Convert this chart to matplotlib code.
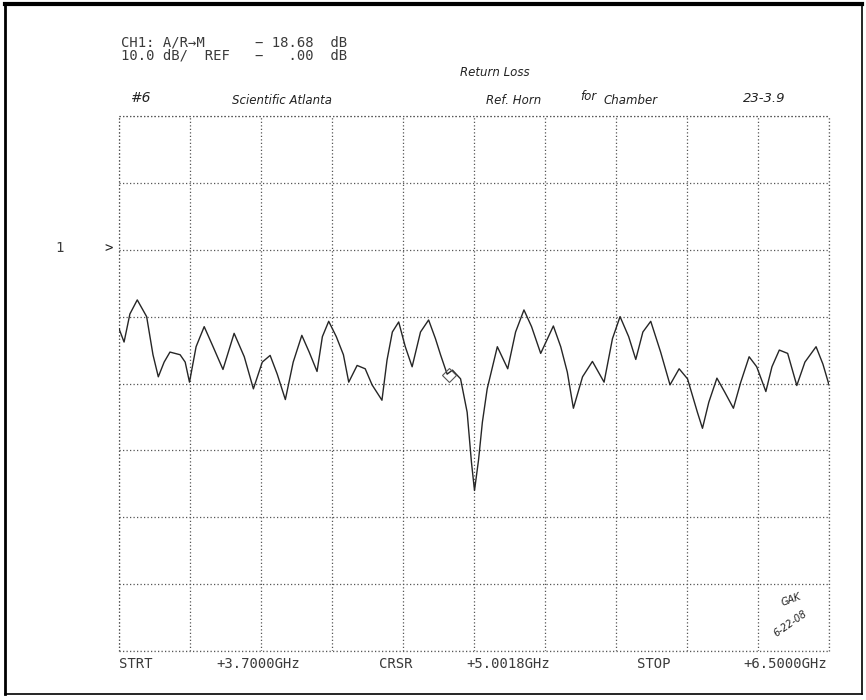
import numpy as np
import matplotlib
matplotlib.use("Agg")
import matplotlib.pyplot as plt
from matplotlib.lines import Line2D

# ---- data ----
freq_ghz = [3.700, 3.720, 3.743, 3.772, 3.809, 3.834, 3.855, 3.878, 3.901, 3.941,
            3.961, 3.978, 4.004, 4.036, 4.071, 4.110, 4.154, 4.194, 4.230, 4.265,
            4.296, 4.324, 4.356, 4.387, 4.421, 4.450, 4.481, 4.502, 4.527, 4.557,
            4.585, 4.606, 4.639, 4.671, 4.698, 4.737, 4.757, 4.778, 4.803, 4.829,
            4.856, 4.889, 4.921, 4.948, 4.968, 4.994, 5.015, 5.047, 5.073, 5.090,
            5.102, 5.118, 5.133, 5.152, 5.192, 5.233, 5.264, 5.297, 5.327, 5.363,
            5.413, 5.442, 5.468, 5.492, 5.528, 5.567, 5.613, 5.646, 5.676, 5.710,
            5.738, 5.766, 5.797, 5.836, 5.873, 5.909, 5.942, 5.981, 6.001, 6.026,
            6.058, 6.089, 6.123, 6.152, 6.185, 6.215, 6.251, 6.275, 6.304, 6.337,
            6.373, 6.405, 6.449, 6.476, 6.500]
return_loss_db = [-11.8, -13.8, -9.6, -7.5, -10.0, -15.7, -19.0, -16.8, -15.3, -15.7,
                  -16.8, -19.8, -14.5, -11.5, -14.5, -17.9, -12.5, -16.0, -20.8, -16.8,
                  -15.8, -18.6, -22.4, -16.8, -12.8, -15.3, -18.2, -13.0, -10.7, -13.0,
                  -15.7, -19.8, -17.3, -17.8, -20.2, -22.5, -16.5, -12.3, -10.8, -14.5,
                  -17.5, -12.3, -10.5, -13.3, -15.7, -18.6, -18.0, -19.3, -24.3, -31.8,
                  -36.0, -31.4, -25.8, -20.8, -14.5, -17.8, -12.3, -9.0, -11.5, -15.5,
                  -11.4, -14.5, -18.3, -23.7, -19.0, -16.7, -19.8, -13.3, -10.0, -13.0,
                  -16.4, -12.3, -10.7, -15.3, -20.2, -17.8, -19.3, -24.3, -26.7, -22.8,
                  -19.2, -21.3, -23.7, -19.8, -16.0, -17.5, -21.2, -17.5, -15.0, -15.5,
                  -20.3, -16.8, -14.5, -17.1, -20.2]
start_ghz, stop_ghz = 3.7, 6.5
cursor_ghz, cursor_db = 5.0018, -18.68
ref_db, scale_db = 0.0, 10.0
n_xdiv, n_ydiv = 10, 8
ref_div_from_top = 2

header_lines = ["CH1: A/R\u2192M      \u2212 18.68  dB",
                "10.0 dB/  REF   \u2212   .00  dB"]
footer = ["STRT", "+3.7000GHz", "CRSR", "+5.0018GHz", "STOP", "+6.5000GHz"]

W, H = 866, 700
fig = plt.figure(figsize=(W / 100, H / 100), dpi=100)
fig.patch.set_facecolor("white")

def fx(x):
    return x / W

def fy(y):
    return 1 - y / H

# plot area in pixels
L, R, T, B = 119, 829, 116, 651
ax = fig.add_axes([fx(L), fy(B), (R - L) / W, (B - T) / H])
ytop = ref_db + ref_div_from_top * scale_db
ybot = ytop - n_ydiv * scale_db
ax.set_xlim(start_ghz, stop_ghz)
ax.set_ylim(ybot, ytop)
ax.set_xticks(np.linspace(start_ghz, stop_ghz, n_xdiv + 1))
ax.set_yticks(np.linspace(ybot, ytop, n_ydiv + 1))
ax.tick_params(length=0, labelbottom=False, labelleft=False)
gstyle = dict(color="#555555", linestyle=(0, (1.0, 1.8)), linewidth=0.9)
ax.grid(True, **gstyle)
for s in ax.spines.values():
    s.set_visible(False)
for xv in (start_ghz, stop_ghz):
    ax.axvline(xv, clip_on=False, **gstyle)
for yv in (ybot, ytop):
    ax.axhline(yv, clip_on=False, **gstyle)

ax.plot(freq_ghz, return_loss_db, color="#262626", linewidth=1.0)
ax.plot([cursor_ghz], [cursor_db], marker="D", markersize=7, markerfacecolor="none",
        markeredgecolor="#555555", markeredgewidth=0.8)

# ---- printed (dot-matrix like) text ----
mono = dict(family="DejaVu Sans Mono", fontsize=10, color="#3a3a3a", va="center", ha="left")
fig.text(fx(121), fy(36), "\n".join(header_lines), family="DejaVu Sans Mono", fontsize=10,
         color="#3a3a3a", va="top", ha="left", linespacing=0.85)

foot_x = [119, 258, 396, 508, 654, 827]
foot_ha = ["left", "center", "center", "center", "center", "right"]
for txt, x, ha in zip(footer, foot_x, foot_ha):
    fig.text(fx(x), fy(664), txt, **{**mono, "ha": ha})
fig.text(fx(55), fy(248), "1", **mono)
fig.text(fx(104), fy(248), ">", family="DejaVu Sans Mono", fontsize=10, color="#222222",
         va="center", ha="left")

# ---- handwritten annotations ----
hand = dict(family="DejaVu Sans", style="italic", fontsize=8.5, color="#222222",
            va="center", ha="left")
fig.text(fx(460), fy(72), "Return Loss", **hand)
fig.text(fx(130), fy(98), "#6", **{**hand, "fontsize": 10})
fig.text(fx(232), fy(100), "Scientific Atlanta", **hand)
fig.text(fx(486), fy(100), "Ref. Horn", **hand)
fig.text(fx(580), fy(97), "for", **hand)
fig.text(fx(603), fy(100), "Chamber", **hand)
fig.text(fx(743), fy(99), "23-3.9", **{**hand, "fontsize": 9.5})
fig.text(fx(780), fy(600), "GAK", family="DejaVu Sans", style="italic", fontsize=7,
         color="#222222", rotation=20, va="center", ha="left")
fig.text(fx(772), fy(624), "6-22-08", family="DejaVu Sans", style="italic", fontsize=7,
         color="#222222", rotation=35, va="center", ha="left")

# ---- page frame ----
fig.add_artist(Line2D([fx(5), fx(5)], [fy(4), fy(694)], color="black", linewidth=2.0))
fig.add_artist(Line2D([fx(5), fx(862)], [fy(4), fy(4)], color="black", linewidth=3.0))
fig.add_artist(Line2D([fx(862), fx(862)], [fy(4), fy(694)], color="black", linewidth=1.2))
fig.add_artist(Line2D([fx(5), fx(862)], [fy(694), fy(694)], color="black", linewidth=1.2))

fig.savefig("out.png", dpi=100, facecolor="white")
